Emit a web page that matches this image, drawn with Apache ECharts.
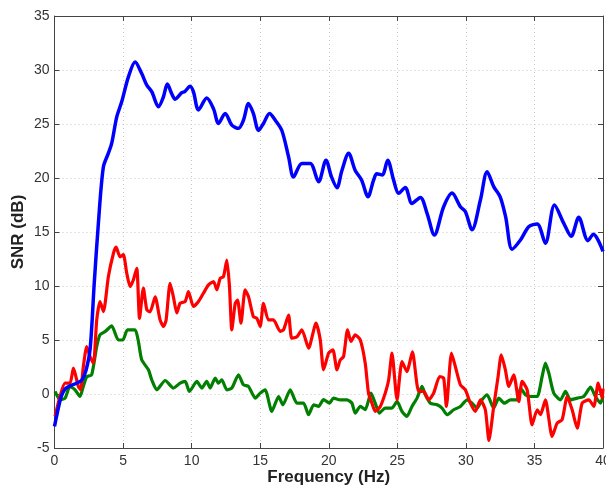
<!DOCTYPE html>
<html>
<head>
<meta charset="utf-8">
<script src="https://cdn.jsdelivr.net/npm/echarts@6/dist/echarts.min.js"></script>
<style>
  html, body { margin: 0; padding: 0; background: #fff; }
  #main { width: 606px; height: 487px; }
</style>
</head>
<body>
<div id="main"></div>
<script>
// 蓝线
let blueFreq = [0, 0.3, 0.5, 0.8, 1.2, 1.6, 2.0, 2.3, 2.6, 2.9, 3.2, 3.56, 3.93, 4.17, 4.54, 4.9, 5.39, 5.88, 6.36, 6.73, 7.1, 7.58, 7.94, 8.23, 8.55, 8.8, 9.28, 9.5, 9.89, 10.13, 10.5, 11.1, 11.6, 11.96, 12.45, 12.93, 13.42, 13.78, 14.15, 14.5, 14.88, 15.24, 15.68, 16.1, 16.58, 17.07, 17.43, 18.04, 18.65, 19.26, 19.8, 20.2, 20.6, 20.96, 21.45, 21.93, 22.4, 22.86, 23.27, 23.5, 23.9, 24.3, 24.73, 25.1, 25.58, 26.07, 26.68, 27.17, 27.7, 28.38, 28.99, 29.6, 29.96, 30.45, 31.06, 31.55, 32.03, 32.5, 32.9, 33.37, 33.98, 34.6, 35.2, 35.8, 36.46, 37.14, 37.68, 38.23, 38.9, 39.3, 40];
let blueSnr = [-3, -1.2, -0.2, 0.5, 0.8, 1.0, 1.3, 2.2, 4.2, 10.3, 15.8, 21.0, 22.3, 23.2, 25.66, 27.05, 29.36, 30.75, 29.67, 28.6, 27.97, 26.6, 27.5, 28.7, 27.8, 27.3, 27.9, 28.0, 28.5, 28.0, 26.3, 27.4, 26.4, 25.05, 25.98, 24.9, 24.6, 25.35, 26.9, 25.98, 24.4, 25.05, 25.98, 25.35, 24.4, 21.96, 20.1, 21.35, 21.35, 19.65, 21.65, 20.1, 19.1, 20.7, 22.3, 20.7, 19.8, 18.26, 19.8, 20.4, 20.27, 21.65, 19.8, 18.58, 19.13, 17.65, 18.2, 16.73, 14.72, 17.34, 18.6, 17.34, 16.9, 15.2, 17.96, 20.58, 19.2, 18.26, 16.4, 13.4, 14.26, 15.5, 15.74, 13.96, 17.5, 15.8, 14.6, 16.36, 14.2, 14.8, 13.2];

// 红线
let redFreq = [0.04, 0.4, 0.77, 1.13, 1.38, 1.74, 1.9, 2.1, 2.35, 2.59, 2.84, 3.08, 3.32, 3.57, 3.93, 4.3, 4.49, 4.78, 5.02, 5.27, 5.51, 5.75, 6.0, 6.2, 6.48, 6.73, 6.97, 7.34, 7.7, 7.95, 8.14, 8.43, 8.67, 8.92, 9.16, 9.53, 9.77, 10.13, 10.5, 10.86, 11.23, 11.6, 11.84, 12.08, 12.32, 12.57, 12.76, 12.93, 13.18, 13.35, 13.6, 13.9, 14.15, 14.5, 14.76, 15.0, 15.24, 15.6, 15.97, 16.46, 16.7, 17.07, 17.3, 17.68, 18.04, 18.53, 19.07, 19.38, 19.62, 19.99, 20.3, 20.6, 20.84, 21.08, 21.37, 21.62, 21.93, 22.3, 22.66, 22.9, 23.15, 23.39, 23.76, 24.12, 24.37, 24.61, 24.98, 25.34, 25.7, 26.1, 26.56, 26.92, 27.29, 27.65, 28.09, 28.38, 28.58, 28.95, 29.23, 29.6, 29.96, 30.33, 30.69, 31.06, 31.42, 31.68, 32.03, 32.35, 32.58, 32.88, 33.13, 33.49, 33.86, 34.1, 34.47, 34.83, 35.2, 35.44, 35.8, 36.29, 36.66, 37.02, 37.39, 37.75, 38.12, 38.48, 38.97, 39.33, 39.65, 39.94, 40];
let redSnr = [-2.07, -0.23, 1.0, 1.0, 2.4, 0.7, 0.4, 2.5, 4.4, 3.47, 2.86, 6.86, 8.56, 7.63, 10.87, 13.03, 13.6, 12.7, 12.9, 11.18, 9.95, 10.56, 11.64, 7.0, 9.8, 7.8, 7.6, 9.0, 6.86, 6.25, 6.86, 10.25, 9.0, 7.5, 8.4, 8.56, 9.48, 8.1, 8.56, 9.33, 10.1, 10.4, 9.64, 10.7, 10.87, 12.4, 9.95, 5.94, 8.4, 8.7, 6.56, 9.64, 9.0, 7.17, 7.0, 6.25, 8.4, 6.86, 6.86, 5.8, 5.94, 7.3, 5.17, 5.3, 5.94, 4.25, 6.56, 5.02, 2.24, 3.78, 4.09, 2.24, 3.16, 3.47, 5.94, 4.86, 5.47, 5.0, 2.85, 0.08, -0.85, -1.61, -1.15, 0.08, 1.31, 3.78, -0.54, 3.0, 2.08, 3.9, 0.24, 0.24, -0.54, 0.08, 1.62, 1.47, -1.15, 3.78, 2.55, 0.85, 0.39, -0.85, -1.61, -0.54, -1.46, -4.3, -1.15, 1.62, 3.62, 2.24, 0.7, 1.78, -0.69, 1.16, 0.39, -2.85, -1.46, -1.92, -0.54, -3.93, -2.69, -2.38, -0.23, -1.46, -3.16, -0.85, -0.54, -1.15, 1.0, -0.38, 0.5];

// 绿线
let greenFreq = [0.04, 0.4, 0.77, 1.13, 1.5, 1.86, 2.1, 2.35, 2.71, 3.08, 3.32, 3.69, 4.17, 4.66, 4.98, 5.32, 5.88, 6.12, 6.36, 6.85, 7.09, 7.46, 8.07, 8.67, 9.16, 9.53, 9.84, 10.38, 10.74, 11.1, 11.35, 11.72, 11.96, 12.2, 12.57, 12.93, 13.42, 13.78, 14.15, 14.64, 15.0, 15.36, 15.85, 16.34, 16.66, 17.19, 17.68, 18.16, 18.53, 18.9, 19.26, 19.62, 20.06, 20.35, 20.84, 21.33, 21.69, 21.93, 22.3, 22.66, 23.08, 23.39, 23.69, 24.12, 24.61, 24.98, 25.34, 25.7, 26.07, 26.44, 26.8, 27.04, 27.41, 27.9, 28.26, 28.63, 29.11, 29.6, 30.09, 30.45, 30.82, 31.18, 31.55, 32.03, 32.4, 32.81, 33.25, 33.74, 33.98, 34.34, 34.71, 35.2, 35.56, 35.8, 36.05, 36.41, 36.9, 37.26, 37.63, 38.12, 38.6, 39.09, 39.45, 39.82, 40];
let greenSnr = [0.24, -0.53, -0.38, 0.7, 0.39, -0.23, 0.7, 1.6, 1.78, 4.4, 5.48, 5.78, 6.3, 5.0, 5.0, 5.94, 5.94, 4.86, 3.17, 2.24, 1.32, 0.39, 1.25, 0.55, 1.0, 1.16, 0.24, 1.16, 0.55, 1.16, 0.55, 1.47, 1.0, 1.32, 0.39, 0.55, 1.78, 0.85, 0.7, -0.38, 0.08, 0.39, -1.61, -0.23, -1.0, 0.39, -0.84, -0.84, -1.92, -1.0, -1.15, -0.53, -0.84, -0.38, -0.54, -0.54, -0.85, -1.77, -1.15, -1.46, 0.08, -0.85, -1.77, -1.3, -1.3, -0.69, -1.61, -2.08, -1.15, -0.38, 0.7, -0.07, -0.85, -1.0, -1.3, -1.92, -1.46, -1.15, -0.54, -0.85, -1.3, -0.54, -0.07, -1.3, -0.38, -0.85, -0.54, -0.54, 0.55, -0.07, -0.23, -0.23, 1.62, 2.85, 1.93, 0.08, -0.54, 0.24, -0.54, -0.38, -0.23, 0.63, -0.23, -0.85, -0.2];

function zip(xs, ys) {
    let out = [];
    for (let i = 0; i < xs.length; i++) {
        out.push([xs[i], ys[i]]);
    }
    return out;
}

let fontFamily = '"Liberation Sans", Arial, sans-serif';
let gridLine = { show: true, lineStyle: { color: '#c8c8c8', type: [1, 3], width: 1 } };

// 上、右两边只画框线和刻度
function boxAxis(pos, min, max) {
    return {
        type: 'value', position: pos, min: min, max: max, interval: 5,
        axisLine: { show: true, onZero: false, lineStyle: { color: '#444', width: 1 } },
        axisTick: { show: true, inside: true, length: 5, lineStyle: { color: '#444' } },
        axisLabel: { show: false },
        splitLine: { show: false }
    };
}

option = {
    animation: false,
    grid: { left: 54.5, right: 3, top: 16, bottom: 39, outerBoundsMode: 'none', containLabel: false },
    xAxis: [
        {
            type: 'value', min: 0, max: 40, interval: 5,
            name: 'Frequency (Hz)', nameLocation: 'middle', nameGap: 21, nameMoveOverlap: false,
            nameTextStyle: { fontFamily: fontFamily, fontSize: 17, fontWeight: 'bold', color: '#222' },
            axisLine: { show: true, onZero: false, lineStyle: { color: '#444', width: 1 } },
            axisTick: { show: true, inside: true, length: 5, lineStyle: { color: '#444' } },
            axisLabel: { fontFamily: fontFamily, fontSize: 14, color: '#333', margin: 6 },
            splitLine: gridLine
        },
        boxAxis('top', 0, 40)
    ],
    yAxis: [
        {
            type: 'value', min: -5, max: 35, interval: 5,
            name: 'SNR (dB)', nameLocation: 'middle', nameGap: 28, nameMoveOverlap: false,
            nameTextStyle: { fontFamily: fontFamily, fontSize: 17, fontWeight: 'bold', color: '#222' },
            axisLine: { show: true, onZero: false, lineStyle: { color: '#444', width: 1 } },
            axisTick: { show: true, inside: true, length: 5, lineStyle: { color: '#444' } },
            axisLabel: { fontFamily: fontFamily, fontSize: 14, color: '#333', margin: 5 },
            splitLine: gridLine
        },
        boxAxis('right', -5, 35)
    ],
    series: [
        {
            name: 'green', type: 'line', data: zip(greenFreq, greenSnr),
            showSymbol: false, smooth: 0.2,
            lineStyle: { color: '#007f00', width: 3.2 }, z: 3
        },
        {
            name: 'red', type: 'line', data: zip(redFreq, redSnr),
            showSymbol: false, smooth: 0.2,
            lineStyle: { color: '#ff0000', width: 3.2 }, z: 4
        },
        {
            name: 'blue', type: 'line', data: zip(blueFreq, blueSnr),
            showSymbol: false, smooth: 0.3,
            lineStyle: { color: '#0000ff', width: 3.5 }, z: 5
        }
    ]
};

let myChart = echarts.init(document.getElementById("main"));
myChart.setOption(option);
</script>
</body>
</html>
